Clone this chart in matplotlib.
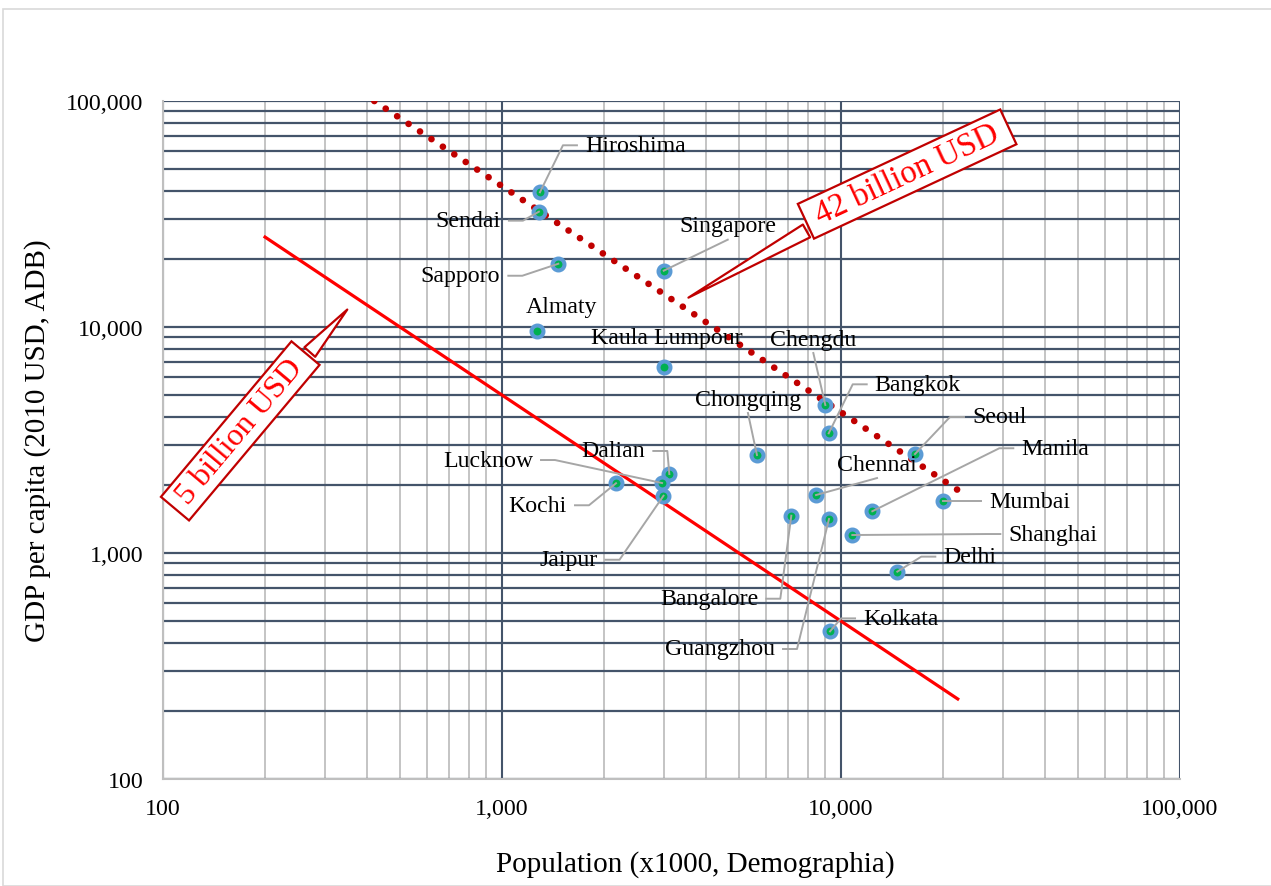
import matplotlib
matplotlib.use('Agg')
import matplotlib.pyplot as plt
from matplotlib.ticker import FuncFormatter, NullFormatter, LogLocator
from matplotlib.transforms import IdentityTransform
from matplotlib.lines import Line2D
from matplotlib.patches import Rectangle

plt.rcParams['font.family'] = ['Liberation Serif', 'DejaVu Serif']

# city data: population (x1000) and GDP per capita (2010 USD)
cities = ['Hiroshima', 'Sendai', 'Sapporo', 'Almaty', 'Singapore', 'Kaula Lumpour',
          'Chengdu', 'Bangkok', 'Chongqing', 'Seoul', 'Manila', 'Mumbai',
          'Shanghai', 'Delhi', 'Kolkata', 'Chennai', 'Dalian', 'Lucknow',
          'Kochi', 'Jaipur', 'Bangalore', 'Guangzhou']
population = [1294, 1285, 1466, 1266, 3000, 3005,
              8990, 9200, 5650, 16530, 12370, 20040,
              10800, 14660, 9283, 8440, 3116, 2965,
              2169, 2995, 7135, 9218]
gdp = [39450, 32380, 19050, 9630, 17750, 6630,
       4517, 3385, 2714, 2742, 1530, 1694,
       1201, 827, 450, 1805, 2237, 2040,
       2035, 1792, 1462, 1414]

# iso-GDP lines (end points)
line5_x = [200, 22100]
line5_y = [25000, 226]
line42_x = [420, 22100]
line42_y = [100000, 1900]

# label placement: kind, dx, dy (pixels from the point, y up)
# R = text right of leader, L = text left of leader, A = above with leader, N = no leader
label_pos = {
    'Hiroshima': ('R', 45, 47), 'Sendai': ('L', -38, -9), 'Sapporo': ('L', -58, -12),
    'Almaty': ('N', 25, 24), 'Singapore': ('A', 64, 45), 'Kaula Lumpour': ('N', 3, 30),
    'Chengdu': ('A', -12, 66), 'Bangkok': ('R', 46, 49), 'Chongqing': ('A', -9, 56),
    'Seoul': ('R', 57, 37), 'Manila': ('R', 149, 63), 'Mumbai': ('R', 46, 0),
    'Shanghai': ('R', 156, 1), 'Delhi': ('R', 46, 15), 'Kolkata': ('R', 33, 13),
    'Chennai': ('A', 61, 31), 'Dalian': ('L', -24, 23), 'Lucknow': ('L', -129, 23),
    'Kochi': ('L', -49, -22), 'Jaipur': ('L', -66, -64), 'Bangalore': ('L', -33, -83),
    'Guangzhou': ('L', -54, -130),
}

W, H = 1271, 887
fig = plt.figure(figsize=(W / 100, H / 100), dpi=100)
fig.add_artist(Rectangle((3 / W, 0), 1.2, 1 - 10 / H, transform=fig.transFigure,
                         fill=False, ec='#d9d9d9', lw=1.2))
ax = fig.add_axes([163 / W, 1 - 780 / H, 1017 / W, 678 / H])

dark = '#44546a'
light = '#bfbfbf'

ax.set_xscale('log')
ax.set_yscale('log')
ax.set_xlim(100, 100000)
ax.set_ylim(100, 100000)
ax.set_axisbelow(True)
ax.xaxis.set_major_locator(LogLocator(base=10))
ax.xaxis.set_minor_locator(LogLocator(base=10, subs=range(2, 10)))
ax.yaxis.set_major_locator(LogLocator(base=10))
ax.yaxis.set_minor_locator(LogLocator(base=10, subs=range(2, 10)))
fmt = FuncFormatter(lambda v, p: f'{v:,.0f}')
ax.xaxis.set_major_formatter(fmt)
ax.yaxis.set_major_formatter(fmt)
ax.xaxis.set_minor_formatter(NullFormatter())
ax.yaxis.set_minor_formatter(NullFormatter())
ax.tick_params(which='both', length=0, labelsize=17.2)
ax.tick_params(axis='x', pad=14)
ax.tick_params(axis='y', pad=14)

ax.xaxis.grid(True, which='minor', color=light, lw=1.3)
ax.xaxis.grid(True, which='major', color=dark, lw=1.5)
ax.yaxis.grid(True, which='both', color=dark, lw=1.6)
for s in ['top', 'right']:
    ax.spines[s].set_visible(False)
for s in ['left', 'bottom']:
    ax.spines[s].set_color(light)
    ax.spines[s].set_linewidth(1.5)

ax.plot(line5_x, line5_y, color='#ff0000', lw=2.3, zorder=3)
ax.plot(line42_x, line42_y, color='#c00000', lw=4.8, linestyle=(0, (0.01, 2.05)),
        dash_capstyle='round', zorder=3)

ax.plot(population, gdp, linestyle='none', marker='o', markersize=8.6,
        markerfacecolor='#00b050', markeredgecolor='#5b9bd5', markeredgewidth=2.9,
        zorder=4)

lead = '#a6a6a6'
gap, h = 8, 14
for name, x, y in zip(cities, population, gdp):
    kind, dx, dy = label_pos[name]
    px, py = ax.transData.transform((x, y))
    ha = {'R': 'left', 'L': 'right', 'A': 'center', 'N': 'center'}[kind]
    ax.annotate(name, (x, y), xytext=(dx, dy), textcoords='offset pixels',
                ha=ha, va='center', fontsize=17.2, color='black', zorder=6)
    if kind == 'R':
        xs = [px, px + dx - gap - h, px + dx - gap]
        ys = [py, py + dy, py + dy]
    elif kind == 'L':
        xs = [px, px + dx + gap + h, px + dx + gap]
        ys = [py, py + dy, py + dy]
    elif kind == 'A':
        xs = [px, px + dx]
        ys = [py, py + dy - 14]
    else:
        continue
    fig.add_artist(Line2D(xs, ys, transform=IdentityTransform(), color=lead,
                          lw=1.4, zorder=5))

# callouts
box = dict(boxstyle='square,pad=0.12', fc='white', ec='#c00000', lw=1.6)
ax.annotate(' 5 billion USD ', xy=(354, 12200), xytext=(169, 3470), textcoords='data',
            rotation=50, rotation_mode='anchor', ha='center', va='center',
            fontsize=23, color='#ff0000', bbox=box, zorder=7,
            arrowprops=dict(arrowstyle='wedge,tail_width=0.45,shrink_factor=0.5',
                            fc='white', ec='#c00000', lw=1.6))
ax.annotate(' 42 billion USD ', xy=(3490, 13300), xytext=(15670, 47500), textcoords='data',
            rotation=25, rotation_mode='anchor', ha='center', va='center',
            fontsize=23.5, color='#ff0000', bbox=box, zorder=7,
            arrowprops=dict(arrowstyle='wedge,tail_width=0.45,shrink_factor=0.5',
                            fc='white', ec='#c00000', lw=1.6))

fig.text(695 / W, 1 - 865 / H, 'Population (x1000, Demographia)', ha='center',
         va='center', fontsize=21)
fig.text(38 / W, 1 - 441 / H, 'GDP per capita (2010 USD, ADB)', ha='center',
         va='center', rotation=90, fontsize=21)

fig.savefig('out.png', dpi=100)
